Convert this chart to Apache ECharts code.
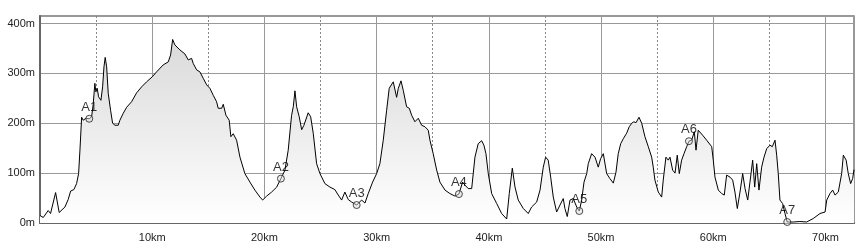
<!DOCTYPE html>
<html>
<head>
<meta charset="utf-8">
<script src="https://cdn.jsdelivr.net/npm/echarts@6/dist/echarts.min.js"></script>
<style>html,body{margin:0;padding:0;background:#fff}#c{width:860px;height:250px}</style>
</head>
<body>
<div id="c"></div>
<script>
var distKm = [0, 0.29, 0.73, 0.94, 1.39, 1.71, 1.86, 2.22, 2.51, 2.73, 3.02, 3.26, 3.44, 3.56, 3.71, 3.85, 4.09, 4.39, 4.60, 4.74, 4.89, 4.98, 5.10, 5.22, 5.34, 5.43, 5.58, 5.70, 5.81, 5.94, 6.08, 6.29, 6.47, 6.68, 6.83, 6.97, 7.12, 7.42, 7.72, 8.16, 8.61, 9.06, 9.50, 10.00, 10.39, 10.98, 11.43, 11.64, 11.82, 12.02, 12.47, 12.91, 13.21, 13.51, 13.65, 13.96, 14.25, 14.55, 14.85, 15.14, 15.44, 15.74, 15.88, 16.19, 16.33, 16.57, 16.86, 17.01, 17.22, 17.52, 17.82, 18.26, 18.71, 19.15, 19.60, 19.84, 20.20, 20.64, 21.09, 21.47, 21.83, 22.12, 22.42, 22.57, 22.72, 22.87, 23.10, 23.32, 23.52, 23.90, 24.12, 24.35, 24.65, 24.95, 25.39, 25.84, 26.28, 26.58, 26.88, 27.17, 27.47, 27.77, 28.22, 28.66, 28.96, 29.25, 29.64, 30.00, 30.29, 30.59, 30.89, 31.12, 31.48, 31.78, 31.93, 32.17, 32.37, 32.67, 32.91, 33.12, 33.41, 33.71, 34.01, 34.30, 34.60, 34.75, 35.04, 35.35, 35.64, 36.09, 36.53, 36.98, 37.33, 37.66, 37.87, 38.16, 38.47, 38.76, 39.05, 39.36, 39.56, 39.74, 39.95, 40.25, 40.70, 41.14, 41.59, 41.82, 42.09, 42.33, 42.62, 43.07, 43.51, 43.81, 44.26, 44.56, 44.85, 45.06, 45.29, 45.51, 45.74, 46.04, 46.34, 46.63, 46.78, 46.99, 47.23, 47.52, 47.83, 48.06, 48.27, 48.48, 48.72, 48.86, 49.16, 49.46, 49.75, 49.96, 50.20, 50.50, 50.79, 51.09, 51.33, 51.53, 51.75, 51.98, 52.13, 52.28, 52.51, 52.73, 52.93, 53.11, 53.38, 53.62, 53.91, 54.21, 54.51, 54.65, 54.80, 55.10, 55.40, 55.54, 55.78, 55.99, 56.14, 56.38, 56.59, 56.79, 56.97, 57.18, 57.39, 57.63, 57.83, 58.07, 58.31, 58.46, 58.66, 58.81, 59.05, 59.41, 59.86, 60.00, 60.15, 60.45, 60.75, 60.98, 61.19, 61.49, 61.73, 61.93, 62.14, 62.38, 62.62, 62.83, 63.07, 63.27, 63.51, 63.69, 63.87, 64.07, 64.31, 64.52, 64.76, 65.05, 65.26, 65.50, 65.65, 65.79, 65.94, 66.18, 66.39, 66.59, 67.13, 67.72, 68.32, 68.91, 69.51, 69.96, 70.11, 70.40, 70.64, 70.85, 71.14, 71.44, 71.59, 71.84, 72.03, 72.24, 72.42, 72.54];
var elevM = [15, 11, 25, 19, 61, 21, 19, 32, 47, 64, 67, 79, 99, 146, 212, 206, 210, 209, 213, 238, 280, 263, 270, 253, 253, 246, 273, 313, 332, 313, 260, 226, 200, 196, 200, 196, 206, 220, 232, 243, 261, 273, 283, 293, 303, 317, 323, 337, 368, 357, 347, 339, 327, 330, 320, 307, 303, 290, 277, 270, 256, 243, 230, 230, 238, 216, 206, 173, 179, 166, 132, 99, 82, 66, 52, 46, 54, 62, 72, 89, 106, 146, 216, 233, 265, 233, 213, 187, 196, 221, 213, 180, 119, 99, 79, 72, 67, 56, 46, 62, 47, 42, 36, 46, 40, 59, 82, 99, 119, 166, 226, 270, 283, 252, 270, 285, 266, 233, 230, 216, 203, 210, 196, 193, 186, 166, 139, 106, 82, 66, 59, 54, 58, 82, 76, 69, 69, 132, 159, 165, 156, 139, 99, 59, 39, 19, 8, 59, 110, 72, 46, 29, 19, 32, 42, 66, 112, 132, 126, 92, 52, 22, 36, 49, 29, 13, 46, 49, 32, 24, 46, 82, 99, 119, 139, 132, 112, 129, 139, 99, 89, 80, 102, 139, 159, 169, 166, 180, 193, 200, 203, 201, 212, 200, 173, 153, 132, 112, 86, 62, 52, 86, 132, 126, 132, 106, 100, 136, 99, 126, 139, 153, 164, 166, 183, 146, 186, 183, 176, 166, 153, 126, 92, 66, 59, 56, 96, 92, 86, 62, 29, 62, 99, 69, 46, 82, 126, 72, 119, 66, 112, 132, 149, 156, 153, 166, 136, 99, 46, 39, 19, 2, 2, 3, 2, 9, 19, 22, 46, 59, 66, 56, 62, 99, 136, 126, 99, 79, 89, 107];
var markerNames = ['A1', 'A2', 'A3', 'A4', 'A5', 'A6', 'A7'];
var markerKm = [4.39, 21.47, 28.22, 37.33, 48.06, 57.83, 66.59];
var markerElev = [209, 89, 36, 58, 24, 164, 2];
var yTicks = [0, 100, 200, 300, 400];

var profile = distKm.map(function (d, i) { return [d, elevM[i]]; });
var markers = markerNames.map(function (n, i) { return { name: n, value: [markerKm[i], markerElev[i]] }; });

var chart = echarts.init(document.getElementById('c'), null, { renderer: 'canvas' });
chart.setOption({
  animation: false,
  textStyle: { fontFamily: 'Liberation Sans, Arial, sans-serif' },
  grid: { left: 40, right: 6, top: 16, bottom: 27, show: true, borderColor: '#777', borderWidth: 1.5, backgroundColor: 'transparent' },
  xAxis: {
    type: 'value', min: 0, max: 72.54, interval: 10,
    axisLine: { show: true, lineStyle: { color: '#666', width: 2 } },
    axisTick: { show: false },
    axisLabel: { showMinLabel: false, showMaxLabel: false, color: '#222', fontSize: 11, margin: 9, formatter: function (v) { return v + 'km'; } },
    splitLine: { show: true, lineStyle: { color: '#999', width: 1 } },
    minorTick: { show: false, splitNumber: 2 },
    minorSplitLine: { show: true, lineStyle: { color: '#888', width: 1, type: [2, 2] } }
  },
  yAxis: {
    type: 'value', min: 0, max: 415, interval: 100,
    axisLine: { show: true, lineStyle: { color: '#666', width: 2 } },
    axisTick: { show: false },
    axisLabel: { showMaxLabel: false, color: '#222', fontSize: 11, margin: 5, formatter: function (v) { return yTicks.indexOf(v) >= 0 ? v + 'm' : ''; } },
    splitLine: { show: true, lineStyle: { color: '#999', width: 1 } }
  },
  series: [
    {
      type: 'line', data: profile, symbol: 'none', smooth: false,
      lineStyle: { color: '#000', width: 1 },
      areaStyle: {
        color: new echarts.graphic.LinearGradient(0, 0, 0, 1, [
          { offset: 0, color: '#dadada' },
          { offset: 1, color: '#ffffff' }
        ]),
        opacity: 1
      },
      z: 2
    },
    {
      type: 'scatter', data: markers, symbol: 'circle', symbolSize: 7,
      itemStyle: { color: 'rgba(220,220,220,0.6)', borderColor: '#222', borderWidth: 1 },
      label: { show: true, position: 'top', distance: 1, formatter: '{b}', color: '#000', fontSize: 13, textBorderWidth: 0 },
      z: 3
    }
  ]
});
</script>
</body>
</html>
